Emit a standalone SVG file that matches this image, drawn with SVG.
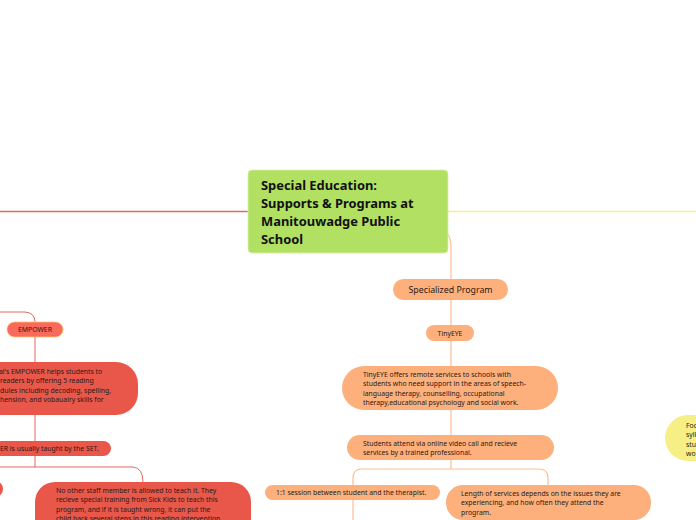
<svg xmlns="http://www.w3.org/2000/svg" width="696" height="520" viewBox="0 0 696 520">
<style>
text{font-family:"Noto Sans","Open Sans","DejaVu Sans",sans-serif;fill:#2a1a14}
.t{font-size:6.85px}
.title{font-size:12.9px;font-weight:bold;fill:#111}
.or{fill:#fdb07c}
.rd{fill:#e9574a}
.lr{fill:#fa6a5c;stroke:#f7c46e;stroke-width:0.8}
.yl{fill:#f5ef86}
.cr{fill:none;stroke:#e4685b;stroke-width:1}
.crm{fill:none;stroke:#e8675a;stroke-width:1.6}
.co{fill:none;stroke:#fdbf94;stroke-width:1.2}
.cy{fill:none;stroke:#f5ef8c;stroke-width:1.6}
</style>
<rect width="696" height="520" fill="#fff"/>
<g id="connectors">
<path class="crm" d="M0,211.5 L248,211.5"/>
<path class="cy" d="M448,211.5 L696,211.5"/>
<path class="co" d="M448,234 Q451,238 451,250 L451,279"/>
<path class="co" d="M451,300 L451,325 M451,341 L451,366 M451,410 L451,435 M451,460 L451,469"/>
<path class="co" d="M353,520 L353,478 Q353,469 362,469 L539,469 Q548,469 548,478 L548,485"/>
<path class="cr" d="M0,312 L25,312 Q35,313 35,322"/>
<path class="cr" d="M35,337 L35,362 M35,415 L35,441 M35,456 L35,467"/>
<path class="cr" d="M0,467 L133,467 Q143,468 143,482"/>
</g>
<g id="central">
<rect x="248" y="170" width="200" height="83" rx="4" fill="#b2e062" stroke="#d8eeb0" stroke-width="0.8"/>
<text class="title" x="261" y="190">Special Education:</text>
<text class="title" x="261" y="208">Supports &amp; Programs at</text>
<text class="title" x="261" y="226">Manitouwadge Public</text>
<text class="title" x="261" y="244">School</text>
</g>
<g id="specialized">
<rect class="or" x="393" y="279" width="115" height="21" rx="10.5"/>
<text x="450.5" y="293" font-size="8.8" text-anchor="middle">Specialized Program</text>
</g>
<g id="tinyeye">
<rect class="or" x="426" y="325" width="48" height="16" rx="8"/>
<text class="t" x="450" y="335.5" text-anchor="middle">TinyEYE</text>
</g>
<g id="tinyeye-desc">
<rect class="or" x="342" y="366" width="216" height="44" rx="22"/>
<text class="t" x="363" y="376.5">TinyEYE offers remote services to schools with</text>
<text class="t" x="363" y="386">students who need support in the areas of speech-</text>
<text class="t" x="363" y="395.5">language therapy, counselling, occupational</text>
<text class="t" x="363" y="405">therapy,educational psychology and social work.</text>
</g>
<g id="students-attend">
<rect class="or" x="347" y="435" width="207" height="25" rx="12.5"/>
<text class="t" x="363" y="445.5">Students attend via online video call and recieve</text>
<text class="t" x="363" y="455">services by a trained professional.</text>
</g>
<g id="session">
<rect class="or" x="265" y="485" width="175" height="15" rx="7.5"/>
<text class="t" x="276" y="495">1:1 session between student and the therapist.</text>
</g>
<g id="length">
<rect class="or" x="446" y="485" width="205" height="35" rx="17"/>
<text class="t" x="461" y="495.5">Length of services depends on the issues they are</text>
<text class="t" x="461" y="505">experiencing, and how often they attend the</text>
<text class="t" x="461" y="514.5">program.</text>
</g>
<g id="yellow-node">
<rect class="yl" x="665" y="415" width="90" height="46" rx="23"/>
<text class="t" x="686" y="427.5">Foc</text>
<text class="t" x="686" y="437">syll</text>
<text class="t" x="686" y="446.5">stu</text>
<text class="t" x="686" y="456">wo</text>
</g>
<g id="empower">
<rect class="lr" x="7" y="322" width="56" height="15" rx="7.5"/>
<text class="t" x="35" y="332" text-anchor="middle">EMPOWER</text>
</g>
<g id="empower-desc">
<rect class="rd" x="-100" y="362" width="238" height="53" rx="22"/>
<text class="t" x="-1" y="373.5">al's EMPOWER helps students to</text>
<text class="t" x="0" y="383">readers by offering 5 reading</text>
<text class="t" x="0" y="392.5">dules including decoding, spelling,</text>
<text class="t" x="0" y="402">hension, and vobauairy skills for</text>
</g>
<g id="set-node">
<rect class="rd" x="-60" y="441" width="171" height="15" rx="7.5"/>
<text class="t" x="0" y="451">ER is usually taught by the SET.</text>
</g>
<g id="left-partial">
<rect class="rd" x="-40" y="481" width="43" height="16" rx="8"/>
</g>
<g id="no-other-staff">
<rect class="rd" x="35" y="482" width="216" height="60" rx="20"/>
<text class="t" x="56" y="492.5">No other staff member is allowed to teach it. They</text>
<text class="t" x="56" y="502">recieve special training from Sick Kids to teach this</text>
<text class="t" x="56" y="511.5">program, and if it is taught wrong, it can put the</text>
<text class="t" x="56" y="521">child back several steps in this reading intervention.</text>
</g>
</svg>
